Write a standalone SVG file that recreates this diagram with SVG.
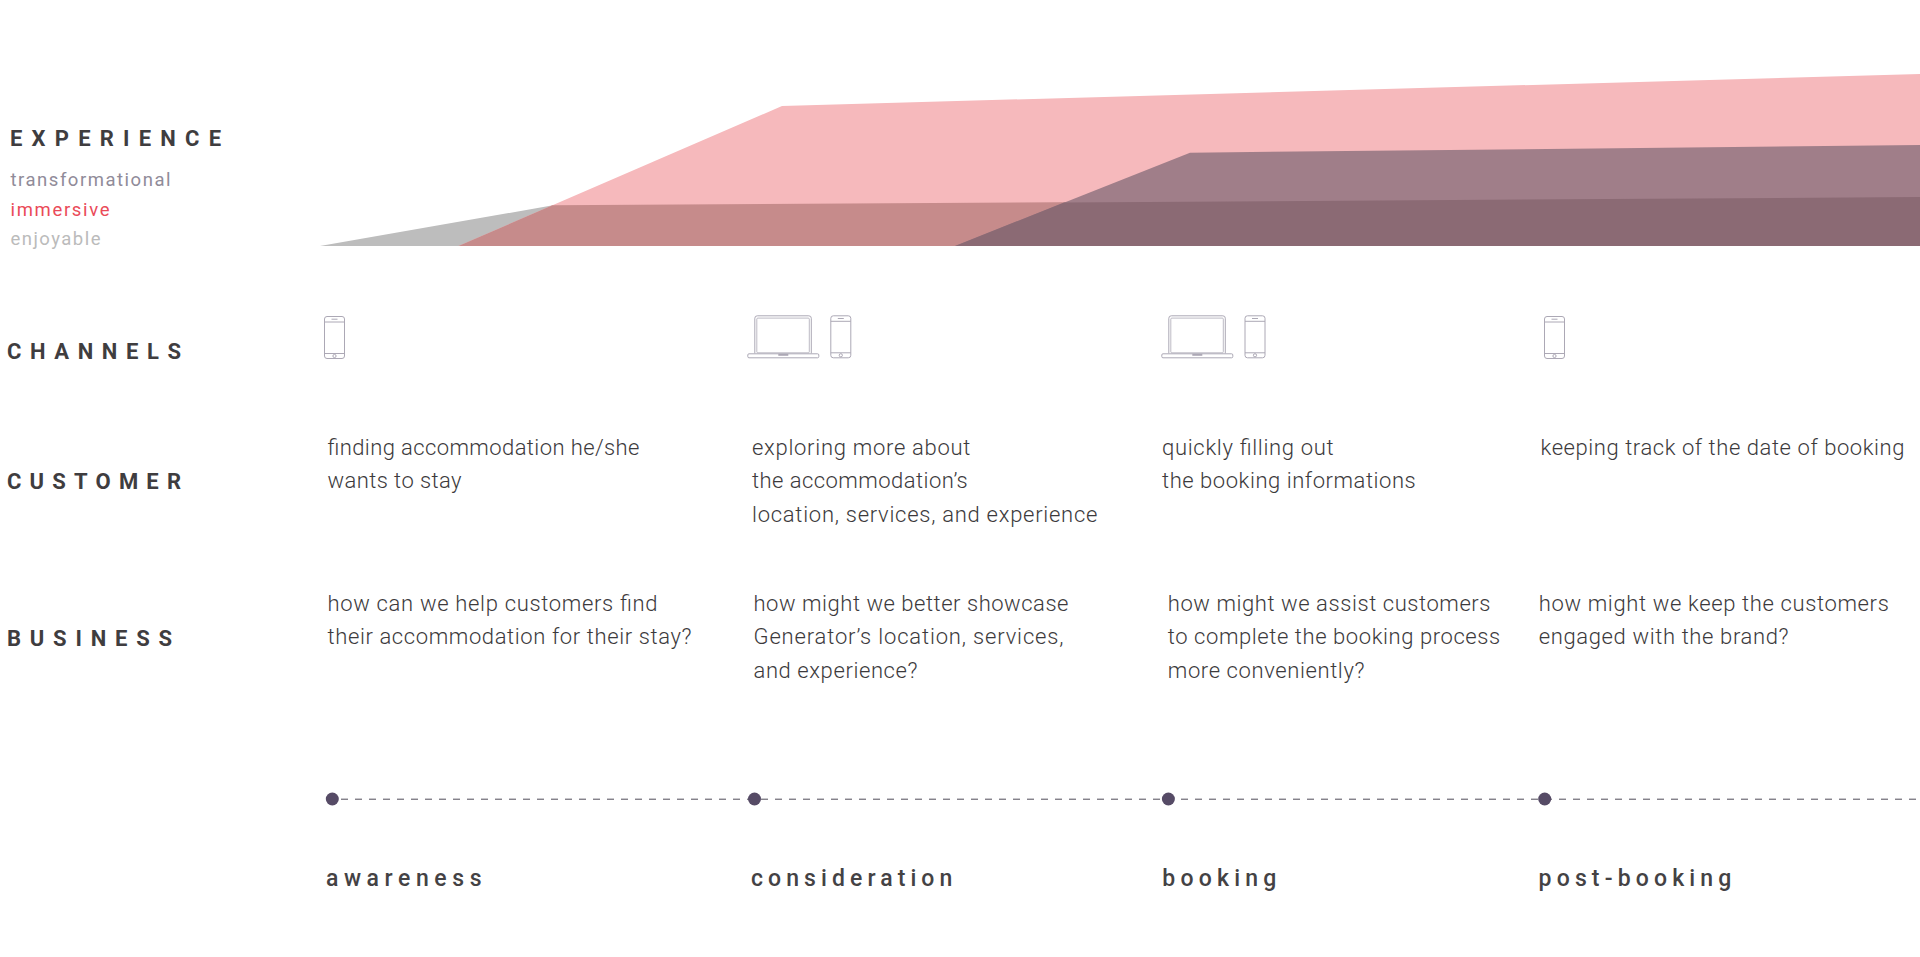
<svg xmlns="http://www.w3.org/2000/svg" xmlns:xlink="http://www.w3.org/1999/xlink" width="1920" height="957" viewBox="0 0 1920 957">
<style>
text{font-family:"Roboto","Liberation Sans",sans-serif}
.h{font-size:22px;font-weight:700;fill:#3f3d3f}
.l{font-size:18.5px;font-weight:400}
.b{font-size:22px;font-weight:300;fill:#3c3a3c}
.s{font-size:23px;font-weight:500;fill:#444244}
.i{fill:none;stroke:#aca8b5;stroke-width:1}
.dot{fill:#564b66}
.dash{stroke:#4f4a57;stroke-width:1;stroke-dasharray:7 7;fill:none}
</style>
<defs>
<g id="phone" class="i">
<rect x="0.5" y="0.5" width="20" height="42" rx="2.5"/>
<path d="M0.5 6H20.5M0.5 37.5H20.5M7.5 3.2H13.5"/>
<circle cx="10.5" cy="40" r="1.6"/>
</g>
<g id="laptop" class="i">
<path d="M7.5 38V3Q7.5 0.5 10 0.5H61.5Q64 0.5 64 3V38"/>
<rect x="9.5" y="2.8" width="52.5" height="34.7" rx="1" stroke-width="0.8"/>
<rect x="0.5" y="38.5" width="71" height="4" rx="1.2"/>
<path d="M31 39.5H41" stroke-width="2"/>
</g>
</defs>
<rect width="1920" height="957" fill="#fff"/>
<g id="experience-chart">
<polygon fill="#bdbdbd" points="320,246 553,205.3 1920,197 1920,246"/>
<polygon fill="#f6b9bc" points="458.5,246 782,106 1920,74 1920,246"/>
<polygon fill="#c68b8b" points="458.5,246 552.5,205.3 1920,197 1920,246"/>
<polygon fill="#a07e89" points="955,246 1190,152.7 1920,145 1920,246"/>
<polygon fill="#8b6a74" points="955,246 1064,202.5 1920,197 1920,246"/>
</g>
<g id="row-experience">
<text class="h" x="10" y="145.9" textLength="211">EXPERIENCE</text>
<text class="l" x="10.5" y="186" fill="#908b99" textLength="160">transformational</text>
<text class="l" x="10.5" y="215.7" fill="#ea4a58" textLength="99">immersive</text>
<text class="l" x="10.5" y="245" fill="#bbbbbb" textLength="90">enjoyable</text>
</g>
<g id="row-channels">
<text class="h" x="7" y="358.8" textLength="174">CHANNELS</text>
<use xlink:href="#phone" href="#phone" x="324" y="316"/>
<use xlink:href="#laptop" href="#laptop" x="747.3" y="315.3"/>
<use xlink:href="#phone" href="#phone" x="830.3" y="315.3"/>
<use xlink:href="#laptop" href="#laptop" x="1161.3" y="315.3"/>
<use xlink:href="#phone" href="#phone" x="1244.5" y="315.3"/>
<use xlink:href="#phone" href="#phone" x="1544" y="316"/>
</g>
<g id="row-customer">
<text class="h" x="7" y="488.8" textLength="174">CUSTOMER</text>
<text class="b" x="327.5" y="455" textLength="312">finding accommodation he/she</text>
<text class="b" x="327.5" y="488.3" textLength="134">wants to stay</text>
<text class="b" x="752" y="455" textLength="218.4">exploring more about</text>
<text class="b" x="752" y="488.3" textLength="215.7">the accommodation’s</text>
<text class="b" x="752" y="522.3" textLength="345.4">location, services, and experience</text>
<text class="b" x="1162" y="455" textLength="171.7">quickly filling out</text>
<text class="b" x="1162" y="488.3" textLength="253.7">the booking informations</text>
<text class="b" x="1540.5" y="455" textLength="364">keeping track of the date of booking</text>
</g>
<g id="row-business">
<text class="h" x="7" y="645.6" textLength="165">BUSINESS</text>
<text class="b" x="327.5" y="611" textLength="330">how can we help customers find</text>
<text class="b" x="327.5" y="644.3" textLength="364">their accommodation for their stay?</text>
<text class="b" x="753.5" y="611" textLength="315">how might we better showcase</text>
<text class="b" x="753.5" y="644.3" textLength="310">Generator’s location, services,</text>
<text class="b" x="753.5" y="678.3" textLength="164">and experience?</text>
<text class="b" x="1167.8" y="611" textLength="322.7">how might we assist customers</text>
<text class="b" x="1167.8" y="644.3" textLength="332.4">to complete the booking process</text>
<text class="b" x="1167.8" y="678.3" textLength="196.7">more conveniently?</text>
<text class="b" x="1538.8" y="611" textLength="350">how might we keep the customers</text>
<text class="b" x="1538.8" y="644.3" textLength="249.7">engaged with the brand?</text>
</g>
<g id="connectors">
<line class="dash" x1="341" y1="799.2" x2="1920" y2="799.2"/>
</g>
<g id="stage-awareness">
<circle class="dot" cx="332.3" cy="799" r="6.5"/>
<text class="s" x="326" y="886" textLength="155.5">awareness</text>
</g>
<g id="stage-consideration">
<circle class="dot" cx="754.5" cy="799" r="6.5"/>
<text class="s" x="751" y="886" textLength="201.3">consideration</text>
</g>
<g id="stage-booking">
<circle class="dot" cx="1168.4" cy="799" r="6.5"/>
<text class="s" x="1162.3" y="886" textLength="114">booking</text>
</g>
<g id="stage-post-booking">
<circle class="dot" cx="1544.7" cy="799" r="6.5"/>
<text class="s" x="1538.6" y="886" textLength="192.7">post-booking</text>
</g>
</svg>
